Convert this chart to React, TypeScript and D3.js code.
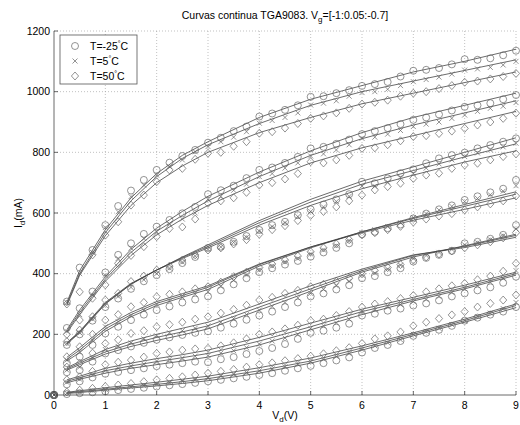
import React from 'react';
import * as d3 from 'd3';

const VD = [0, 0.25, 0.5, 0.75, 1, 1.25, 1.5, 1.75, 2, 2.25, 2.5, 2.75, 3, 3.25, 3.5, 3.75, 4, 4.25, 4.5, 4.75, 5, 5.25, 5.5, 5.75, 6, 6.25, 6.5, 6.75, 7, 7.25, 7.5, 7.75, 8, 8.25, 8.5, 8.75, 9];
const FIT_VD = [0.25, 0.5, 1, 1.5, 2, 2.5, 3, 4, 5, 6, 7, 8, 9];
const X_TICKS = [0, 1, 2, 3, 4, 5, 6, 7, 8, 9];
const Y_TICKS = [0, 200, 400, 600, 800, 1000, 1200];
const TEMPS = ['-25', '5', '50'];
const VG = ['-1', '-0.95', '-0.9', '-0.85', '-0.8', '-0.75', '-0.7'];

// measured Id (mA), Vg = -1
const M_VG1_T25 = [0, 3, 6, 9, 12, 16, 20, 24, 28, 32, 36, 40, 45, 50, 55, 60, 66, 72, 80, 88, 96, 105, 114, 124, 140, 155, 165, 178, 195, 205, 215, 228, 245, 255, 265, 275, 290];
const M_VG1_T5 = [0, 6, 10, 14, 18, 22, 27, 31, 36, 40, 45, 50, 56, 62, 68, 74, 80, 86, 93, 101, 110, 118, 127, 137, 150, 162, 172, 182, 200, 210, 220, 232, 245, 258, 270, 285, 305];
const M_VG1_T50 = [0, 10, 16, 22, 28, 33, 38, 44, 50, 55, 60, 66, 72, 78, 84, 92, 100, 106, 113, 120, 128, 136, 146, 156, 170, 185, 195, 208, 228, 240, 252, 264, 275, 290, 302, 313, 330];
// Vg = -0.95
const M_VG2_T25 = [0, 35, 45, 58, 70, 76, 82, 88, 95, 100, 105, 110, 108, 118, 125, 135, 145, 155, 168, 185, 205, 212, 222, 235, 262, 268, 278, 285, 295, 302, 312, 325, 335, 345, 355, 370, 390];
const M_VG2_T5 = [0, 42, 52, 66, 80, 88, 95, 102, 112, 118, 122, 128, 130, 138, 146, 156, 168, 178, 188, 200, 220, 228, 238, 250, 272, 280, 290, 298, 308, 315, 325, 338, 350, 360, 372, 385, 410];
const M_VG2_T50 = [0, 50, 60, 78, 100, 108, 115, 125, 137, 142, 148, 152, 154, 162, 172, 185, 200, 208, 218, 230, 245, 250, 262, 275, 290, 300, 308, 318, 328, 340, 350, 360, 368, 380, 392, 408, 434];
// Vg = -0.9
const M_VG3_T25 = [0, 75, 82, 110, 137, 148, 160, 172, 182, 190, 198, 205, 210, 222, 235, 248, 262, 275, 290, 305, 325, 335, 348, 362, 385, 392, 405, 418, 440, 452, 462, 475, 500, 505, 515, 528, 560];
const M_VG3_T5 = [0, 82, 92, 122, 150, 160, 172, 185, 195, 205, 212, 220, 228, 240, 252, 265, 280, 292, 305, 320, 335, 348, 360, 375, 395, 402, 415, 428, 450, 460, 470, 480, 495, 502, 512, 525, 548];
const M_VG3_T50 = [0, 92, 104, 138, 170, 182, 203, 212, 225, 232, 240, 250, 258, 270, 282, 296, 313, 322, 335, 345, 357, 365, 375, 385, 400, 410, 420, 430, 445, 455, 465, 475, 485, 495, 505, 518, 535];
// Vg = -0.85
const M_VG4_T25 = [0, 105, 126, 165, 203, 225, 247, 265, 280, 292, 305, 315, 325, 345, 365, 385, 405, 418, 430, 442, 456, 470, 485, 500, 530, 538, 550, 562, 582, 598, 612, 625, 643, 655, 668, 680, 709];
const M_VG4_T5 = [0, 115, 142, 180, 225, 242, 262, 280, 300, 310, 322, 332, 340, 358, 378, 396, 412, 425, 438, 450, 465, 478, 492, 508, 535, 545, 555, 568, 585, 598, 610, 622, 638, 648, 660, 672, 690];
const M_VG4_T50 = [0, 126, 159, 200, 247, 265, 291, 305, 324, 332, 340, 350, 357, 372, 390, 405, 420, 432, 445, 458, 472, 485, 498, 512, 528, 535, 545, 556, 570, 580, 590, 598, 610, 620, 630, 640, 656];
// Vg = -0.8
const M_VG5_T25 = [0, 165, 200, 245, 290, 318, 350, 375, 395, 415, 435, 455, 485, 489, 505, 524, 544, 560, 571, 593, 612, 628, 645, 662, 703, 698, 714, 731, 744, 764, 780, 791, 799, 813, 824, 835, 846];
const M_VG5_T5 = [0, 170, 205, 250, 295, 325, 355, 380, 400, 418, 438, 458, 480, 488, 503, 520, 540, 555, 568, 588, 605, 620, 638, 655, 689, 688, 702, 718, 731, 748, 762, 775, 786, 798, 808, 818, 830];
const M_VG5_T50 = [0, 176, 214, 258, 313, 335, 374, 392, 412, 425, 445, 462, 478, 485, 498, 512, 530, 545, 558, 575, 592, 605, 620, 640, 659, 676, 687, 698, 714, 725, 731, 747, 758, 764, 775, 786, 795];
// Vg = -0.75
const M_VG6_T25 = [0, 221, 286, 341, 404, 462, 500, 531, 555, 577, 599, 620, 662, 675, 690, 715, 742, 750, 765, 785, 813, 818, 828, 842, 860, 870, 880, 893, 907, 915, 925, 938, 950, 955, 962, 975, 989];
const M_VG6_T5 = [0, 210, 265, 330, 395, 450, 484, 516, 538, 565, 580, 600, 645, 655, 675, 695, 720, 730, 748, 765, 788, 795, 808, 825, 846, 850, 860, 872, 885, 893, 900, 912, 923, 935, 945, 952, 964];
const M_VG6_T50 = [0, 200, 247, 319, 363, 434, 460, 489, 522, 549, 554, 580, 632, 640, 650, 668, 692, 700, 712, 730, 769, 765, 775, 790, 813, 815, 825, 838, 852, 855, 862, 870, 879, 890, 900, 912, 929];
// Vg = -0.7
const M_VG7_T25 = [0, 308, 420, 478, 560, 623, 674, 709, 742, 766, 788, 808, 832, 848, 870, 885, 918, 928, 940, 955, 983, 985, 995, 1005, 1019, 1025, 1032, 1050, 1069, 1072, 1078, 1090, 1107, 1105, 1110, 1120, 1135];
const M_VG7_T5 = [0, 305, 400, 470, 552, 604, 654, 692, 725, 753, 775, 802, 819, 835, 850, 868, 896, 905, 915, 930, 956, 962, 970, 985, 997, 1000, 1008, 1020, 1033, 1040, 1048, 1058, 1071, 1075, 1080, 1088, 1100];
const M_VG7_T50 = [0, 300, 340, 462, 527, 571, 626, 659, 703, 742, 747, 777, 797, 800, 820, 835, 863, 868, 880, 895, 912, 920, 930, 945, 959, 965, 972, 985, 995, 1000, 1010, 1020, 1031, 1035, 1042, 1050, 1060];

// fitted model curves at FIT_VD
const F_VG1_T25 = [5, 8, 16, 23, 30, 38, 47, 72, 105, 148, 195, 240, 288];
const F_VG1_T5 = [7, 11, 19, 27, 35, 44, 54, 80, 112, 155, 200, 245, 295];
const F_VG1_T50 = [9, 14, 24, 33, 42, 52, 62, 90, 122, 162, 205, 250, 300];
const F_VG2_T25 = [40, 52, 72, 88, 100, 112, 125, 165, 215, 265, 310, 350, 395];
const F_VG2_T5 = [45, 57, 80, 96, 110, 123, 137, 178, 225, 275, 315, 355, 400];
const F_VG2_T50 = [50, 62, 88, 105, 120, 133, 148, 190, 237, 283, 322, 362, 405];
const F_VG3_T25 = [82, 100, 135, 160, 180, 198, 218, 280, 342, 405, 455, 492, 530];
const F_VG3_T5 = [86, 105, 142, 168, 190, 208, 228, 290, 350, 410, 460, 490, 526];
const F_VG3_T50 = [90, 110, 150, 178, 200, 220, 240, 300, 360, 415, 462, 486, 520];
const F_VG4_T25 = [112, 140, 210, 258, 295, 322, 348, 425, 485, 538, 585, 628, 670];
const F_VG4_T5 = [118, 148, 218, 265, 302, 328, 355, 430, 488, 538, 582, 622, 662];
const F_VG4_T50 = [124, 156, 226, 272, 308, 334, 360, 432, 488, 535, 576, 612, 650];
const F_VG5_T25 = [168, 205, 300, 365, 412, 455, 495, 575, 645, 705, 752, 800, 848];
const F_VG5_T5 = [170, 208, 302, 366, 412, 453, 490, 568, 636, 695, 740, 785, 828];
const F_VG5_T50 = [172, 210, 305, 368, 412, 450, 485, 560, 625, 680, 725, 768, 805];
const F_VG6_T25 = [215, 280, 390, 480, 550, 605, 655, 735, 805, 865, 915, 955, 995];
const F_VG6_T5 = [210, 272, 382, 470, 540, 592, 640, 720, 790, 845, 890, 930, 970];
const F_VG6_T50 = [205, 265, 375, 460, 528, 580, 625, 700, 765, 815, 855, 895, 935];
const F_VG7_T25 = [305, 410, 545, 650, 730, 790, 835, 915, 975, 1020, 1065, 1100, 1140];
const F_VG7_T5 = [300, 400, 535, 640, 720, 780, 825, 895, 955, 1000, 1035, 1070, 1105];
const F_VG7_T50 = [295, 395, 525, 625, 700, 755, 800, 865, 915, 960, 995, 1030, 1065];

const MEAS = [
  [M_VG1_T25, M_VG1_T5, M_VG1_T50],
  [M_VG2_T25, M_VG2_T5, M_VG2_T50],
  [M_VG3_T25, M_VG3_T5, M_VG3_T50],
  [M_VG4_T25, M_VG4_T5, M_VG4_T50],
  [M_VG5_T25, M_VG5_T5, M_VG5_T50],
  [M_VG6_T25, M_VG6_T5, M_VG6_T50],
  [M_VG7_T25, M_VG7_T5, M_VG7_T50],
];
const FITS = [
  [F_VG1_T25, F_VG1_T5, F_VG1_T50],
  [F_VG2_T25, F_VG2_T5, F_VG2_T50],
  [F_VG3_T25, F_VG3_T5, F_VG3_T50],
  [F_VG4_T25, F_VG4_T5, F_VG4_T50],
  [F_VG5_T25, F_VG5_T5, F_VG5_T50],
  [F_VG6_T25, F_VG6_T5, F_VG6_T50],
  [F_VG7_T25, F_VG7_T5, F_VG7_T50],
];

const W = 520, H = 425;
const M = { left: 54, right: 4, top: 31, bottom: 30 };
const FONT = '"Liberation Sans", Arial, Helvetica, sans-serif';
const MK = '#666';

function Marker({ kind, x, y }: { kind: number; x: number; y: number }) {
  if (kind === 0) return <circle cx={x} cy={y} r={3.5} fill="none" stroke={MK} strokeWidth={0.7} />;
  if (kind === 1)
    return (
      <path d={`M${x - 2.5},${y - 2.5}L${x + 2.5},${y + 2.5}M${x - 2.5},${y + 2.5}L${x + 2.5},${y - 2.5}`} stroke={MK} strokeWidth={0.7} fill="none" />
    );
  return <path d={`M${x},${y - 4}L${x + 3.6},${y}L${x},${y + 4}L${x - 3.6},${y}Z`} fill="none" stroke={MK} strokeWidth={0.7} />;
}

export default function App() {
  const x = d3.scaleLinear().domain([0, 9]).range([M.left, W - M.right]);
  const y = d3.scaleLinear().domain([0, 1200]).range([H - M.bottom, M.top]);
  const line = d3.line<[number, number]>().x(d => x(d[0])).y(d => y(d[1]));
  const x0 = x(0), x1 = x(9), y0 = y(0), y1 = y(1200);

  return (
    <svg width={W} height={H} style={{ position: 'absolute', left: 0, top: 0, background: '#fff' }} fontFamily={FONT}>
      <rect x={0} y={0} width={W} height={H} fill="#fff" />
      {X_TICKS.filter(t => t > 0).map(t => (
        <line key={'gx' + t} x1={x(t)} x2={x(t)} y1={y0} y2={y1} stroke="#999" strokeWidth={0.6} strokeDasharray="1,2" />
      ))}
      {Y_TICKS.filter(t => t > 0).map(t => (
        <line key={'gy' + t} x1={x0} x2={x1} y1={y(t)} y2={y(t)} stroke="#999" strokeWidth={0.6} strokeDasharray="1,2" />
      ))}
      {FITS.map((group, gi) =>
        group.map((vals, ti) => (
          <path key={`f${gi}-${ti}`} d={line(FIT_VD.map((v, i) => [v, vals[i]] as [number, number])) || ''} fill="none" stroke="#3a3a3a" strokeWidth={0.75} />
        ))
      )}
      {MEAS.map((group, gi) =>
        group.map((vals, ti) =>
          VD.map((v, i) => <Marker key={`m${gi}-${ti}-${i}`} kind={ti} x={x(v)} y={y(vals[i])} />)
        )
      )}
      <line x1={x0} x2={x1} y1={y0} y2={y0} stroke="#444" strokeWidth={0.8} />
      <line x1={x0} x2={x0} y1={y0} y2={y1} stroke="#444" strokeWidth={0.8} />
      {X_TICKS.map(t => (
        <g key={'tx' + t}>
          <line x1={x(t)} x2={x(t)} y1={y0} y2={y0 - 4} stroke="#444" strokeWidth={0.8} />
          <text x={x(t)} y={y0 + 14} fontSize={10.5} textAnchor="middle" fill="#000">{t}</text>
        </g>
      ))}
      {Y_TICKS.map(t => (
        <g key={'ty' + t}>
          <line x1={x0} x2={x0 + 4} y1={y(t)} y2={y(t)} stroke="#444" strokeWidth={0.8} />
          <text x={x0 - 4} y={y(t) + 3.5} fontSize={10.5} textAnchor="end" fill="#000">{t}</text>
        </g>
      ))}
      <text x={(x0 + x1) / 2} y={19} fontSize={10.5} textAnchor="middle" fill="#000">
        Curvas continua TGA9083. V<tspan dy={3} fontSize={8}>g</tspan><tspan dy={-3}>=[{VG[0]}:0.05:{VG[VG.length - 1]}]</tspan>
      </text>
      <text x={(x0 + x1) / 2} y={419} fontSize={10.5} textAnchor="middle" fill="#000">
        V<tspan dy={3} fontSize={8}>d</tspan><tspan dy={-3}>(V)</tspan>
      </text>
      <text transform={`translate(22,${(y0 + y1) / 2}) rotate(-90)`} fontSize={10.5} textAnchor="middle" fill="#000">
        I<tspan dy={3} fontSize={8}>d</tspan><tspan dy={-3}>(mA)</tspan>
      </text>
      <g>
        <rect x={60} y={35} width={77} height={49} fill="#fff" stroke="#555" strokeWidth={0.8} />
        {TEMPS.map((t, i) => (
          <g key={'lg' + t}>
            <Marker kind={i} x={75} y={46 + i * 15} />
            <text x={90} y={50 + i * 15} fontSize={10.5} fill="#000">
              T={t}<tspan dy={-4} fontSize={7}>°</tspan><tspan dy={4}>C</tspan>
            </text>
          </g>
        ))}
      </g>
    </svg>
  );
}
